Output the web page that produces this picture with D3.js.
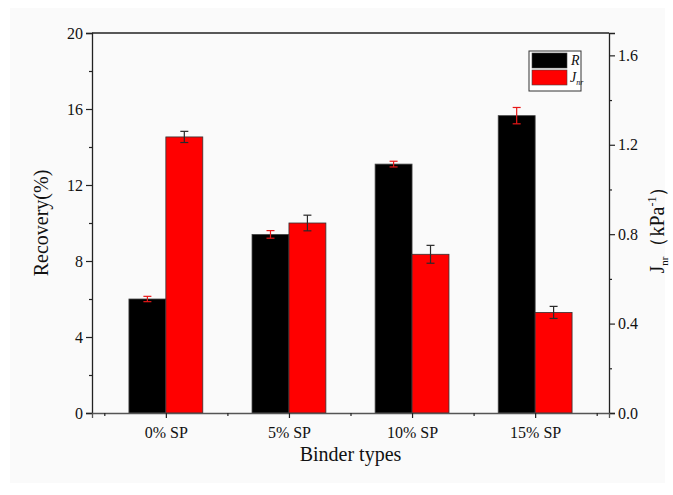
<!DOCTYPE html>
<html>
<head>
<meta charset="utf-8">
<script src="https://cdn.jsdelivr.net/npm/d3@7"></script>
<style>
html,body{margin:0;padding:0;background:#fff;}
svg{display:block;}
text{font-family:"Liberation Serif","Times New Roman",serif;fill:#111;}
</style>
</head>
<body>
<svg id="chart" width="673" height="495"></svg>
<script>
const categories = ["0% SP", "5% SP", "10% SP", "15% SP"];
const recovery = [6.0, 9.4, 13.1, 15.65];
const recoveryErr = [0.14, 0.2, 0.15, 0.43];
const jnr = [1.235, 0.85, 0.71, 0.45];
const jnrErr = [0.025, 0.035, 0.04, 0.027];
const leftTicks = [0, 4, 8, 12, 16, 20];
const rightTicks = [0.0, 0.4, 0.8, 1.2, 1.6];

const svg = d3.select("#chart");
const W = 673, H = 495;
const pLeft = 92, pRight = 609, pTop = 33, pBottom = 413;

svg.append("rect").attr("x", 10).attr("y", 8).attr("width", W - 18).attr("height", H - 20).attr("fill", "#fafafa");

const x = d3.scaleLinear().domain([0.4, 4.6]).range([pLeft, pRight]);
const yL = d3.scaleLinear().domain([0, 20]).range([pBottom, pTop]);
const yR = d3.scaleLinear().domain([0, 1.7]).range([pBottom, pTop]);
const bw = 0.3;

// bars
const g = svg.append("g");
g.selectAll(".barR").data(recovery).enter().append("rect")
  .attr("x", (d, i) => x(i + 1 - bw))
  .attr("y", d => yL(d))
  .attr("width", (d, i) => x(i + 1) - x(i + 1 - bw))
  .attr("height", d => yL(0) - yL(d))
  .attr("fill", "#000").attr("stroke", "#444").attr("stroke-width", 0.8);
g.selectAll(".barJ").data(jnr).enter().append("rect")
  .attr("x", (d, i) => x(i + 1))
  .attr("y", d => yR(d))
  .attr("width", (d, i) => x(i + 1 + bw) - x(i + 1))
  .attr("height", d => yR(0) - yR(d))
  .attr("fill", "#ff0000").attr("stroke", "#333").attr("stroke-width", 0.8);

// error bars
function errBars(vals, errs, scale, offset, color) {
  vals.forEach((v, i) => {
    const cx = x(i + 1 + offset);
    const y1 = scale(v + errs[i]), y2 = scale(v - errs[i]);
    const eg = g.append("g").attr("stroke", color).attr("stroke-width", 1.2);
    eg.append("line").attr("x1", cx).attr("x2", cx).attr("y1", y1).attr("y2", y2);
    eg.append("line").attr("x1", cx - 4).attr("x2", cx + 4).attr("y1", y1).attr("y2", y1);
    eg.append("line").attr("x1", cx - 4).attr("x2", cx + 4).attr("y1", y2).attr("y2", y2);
  });
}
errBars(recovery, recoveryErr, yL, -bw / 2, "#e81818");
errBars(jnr, jnrErr, yR, bw / 2, "#2a2a2a");

// frame
const axisColor = "#222";
svg.append("line").attr("x1", pLeft).attr("x2", pRight).attr("y1", pTop).attr("y2", pTop).attr("stroke", axisColor).attr("stroke-width", 1.3);

// left axis
const gl = svg.append("g").attr("transform", `translate(${pLeft},0)`)
  .call(d3.axisLeft(yL).tickValues(leftTicks).tickSize(6).tickPadding(3).tickFormat(d3.format("d")));
svg.append("g").attr("transform", `translate(${pLeft},0)`)
  .call(d3.axisLeft(yL).tickValues([2, 6, 10, 14, 18]).tickSize(3).tickFormat(""))
  .select(".domain").remove();

// right axis
const gr = svg.append("g").attr("transform", `translate(${pRight},0)`)
  .call(d3.axisRight(yR).tickValues(rightTicks).tickSize(6).tickPadding(3).tickFormat(d3.format(".1f")));
svg.append("g").attr("transform", `translate(${pRight},0)`)
  .call(d3.axisRight(yR).tickValues([0.2, 0.6, 1.0, 1.4]).tickSize(3).tickFormat(""))
  .select(".domain").remove();

// bottom axis
const gb = svg.append("g").attr("transform", `translate(0,${pBottom})`)
  .call(d3.axisBottom(x).tickValues([1, 2, 3, 4]).tickSize(5).tickPadding(9).tickFormat((d, i) => categories[i]));
svg.append("g").attr("transform", `translate(0,${pBottom})`)
  .call(d3.axisBottom(x).tickValues([0.5, 1.5, 2.5, 3.5, 4.5]).tickSize(3).tickFormat(""))
  .select(".domain").remove();

svg.selectAll(".domain").attr("stroke", axisColor).attr("stroke-width", 1.3);
svg.selectAll(".tick line").attr("stroke", axisColor).attr("stroke-width", 1.2);
svg.selectAll(".tick text").attr("font-family", "Liberation Serif").attr("font-size", 16).attr("fill", "#111");
gb.select(".domain").attr("stroke", "#555");

// axis titles
svg.append("text").attr("transform", `translate(48,${(pTop + pBottom) / 2}) rotate(-90)`)
  .attr("text-anchor", "middle").attr("font-size", 20).text("Recovery(%)");
svg.append("text").attr("x", (pLeft + pRight) / 2).attr("y", 461)
  .attr("text-anchor", "middle").attr("font-size", 20).text("Binder types");

const rt = svg.append("text").attr("transform", `translate(664,${(pTop + pBottom) / 2 + 2}) rotate(-90)`)
  .attr("text-anchor", "middle").attr("font-size", 20);
rt.append("tspan").text("J");
rt.append("tspan").attr("font-size", 11).attr("dy", 4).text("nr");
rt.append("tspan").attr("dy", -4).text("（kPa");
rt.append("tspan").attr("font-size", 12).attr("dy", -8).text("-1");
rt.append("tspan").attr("dy", 8).text("）");

// legend
const lg = svg.append("g");
lg.append("rect").attr("x", 529).attr("y", 51).attr("width", 52).attr("height", 40)
  .attr("fill", "#fff").attr("stroke", "#333").attr("stroke-width", 1);
lg.append("rect").attr("x", 532).attr("y", 53).attr("width", 35).attr("height", 15).attr("fill", "#000").attr("stroke", "#444").attr("stroke-width", 0.6);
lg.append("rect").attr("x", 532).attr("y", 70).attr("width", 35).attr("height", 15).attr("fill", "#ff0000").attr("stroke", "#444").attr("stroke-width", 0.6);
lg.append("text").attr("x", 571).attr("y", 65).attr("font-size", 14).attr("font-style", "italic").text("R");
const lj = lg.append("text").attr("x", 570).attr("y", 82).attr("font-size", 14).attr("font-style", "italic");
lj.append("tspan").text("J");
lj.append("tspan").attr("font-size", 8).attr("dy", 3).text("nr");
</script>
</body>
</html>
